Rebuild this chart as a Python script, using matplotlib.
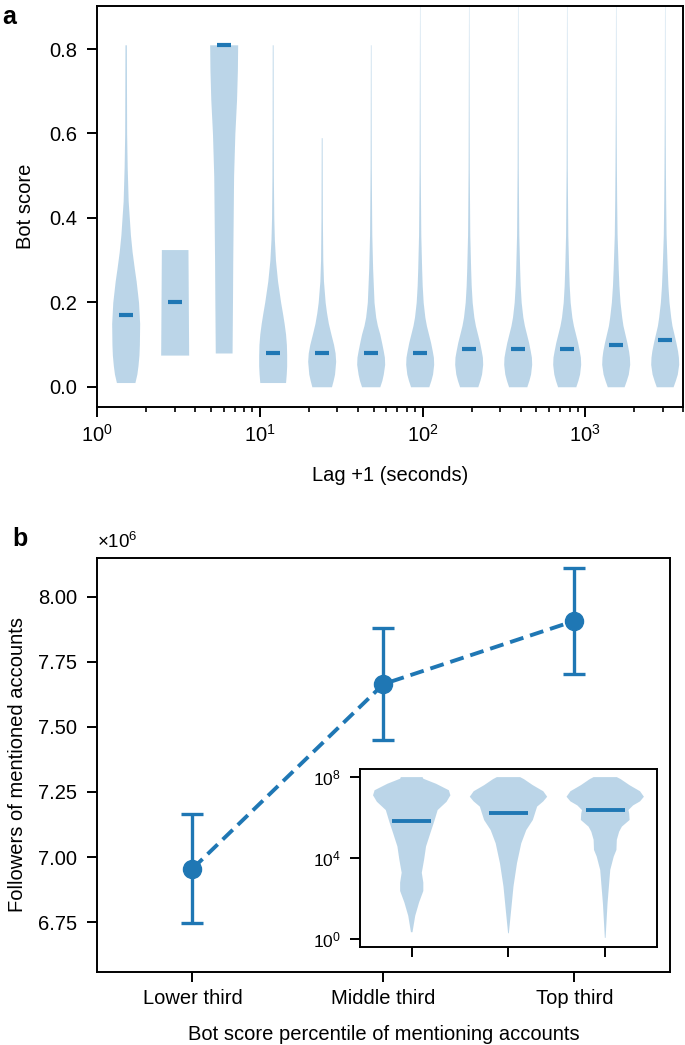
import numpy as np
import matplotlib
matplotlib.use("Agg")
import matplotlib.pyplot as plt

plt.rcParams["font.family"] = ["Liberation Sans", "DejaVu Sans"]
plt.rcParams["mathtext.default"] = "regular"
plt.rcParams["font.size"] = 14.5
plt.rcParams["axes.linewidth"] = 1.4
for ax_name in ("xtick", "ytick"):
    plt.rcParams[f"{ax_name}.major.size"] = 7
    plt.rcParams[f"{ax_name}.major.width"] = 1.4
    plt.rcParams[f"{ax_name}.minor.size"] = 3.8
    plt.rcParams[f"{ax_name}.minor.width"] = 1.2
    plt.rcParams[f"{ax_name}.labelsize"] = 14.5
plt.rcParams["ytick.major.pad"] = 7.5
plt.rcParams["xtick.major.pad"] = 5.5

BLUE = "#1f77b4"

# -----------------------------
# panel a: bot score vs lag (violins, log-x)
# -----------------------------
lag_positions = [1.5, 3, 6, 12, 24, 48, 96, 192, 384, 768, 1536, 3072]
lag_medians = [0.17, 0.20, 0.81, 0.08, 0.08, 0.08, 0.08, 0.09, 0.09, 0.09, 0.10, 0.11]

# profile of each violin: bot score levels and relative half width (1 = widest)
tail_y = [0.0, 0.015, 0.03, 0.053, 0.07, 0.085, 0.105, 0.125, 0.145, 0.165, 0.20, 0.24, 0.28,
          0.36, 0.44, 0.52, 0.65, 0.80, 0.95]
tail_w = [0.65, 0.8, 0.92, 1.0, 0.98, 0.9, 0.78, 0.63, 0.48, 0.37, 0.25, 0.18, 0.14,
          0.08, 0.06, 0.04, 0.03, 0.02, 0.01]
wide_tail_y = [0.0, 0.015, 0.03, 0.053, 0.07, 0.085, 0.105, 0.125, 0.145, 0.165, 0.20, 0.24, 0.28,
               0.36, 0.44, 0.52, 0.65, 0.80, 0.95]
wide_tail_w = [0.6, 0.76, 0.9, 1.0, 0.98, 0.92, 0.8, 0.66, 0.52, 0.43, 0.31, 0.23, 0.18,
               0.1, 0.07, 0.05, 0.03, 0.02, 0.01]

lag_shape_y = [
    [0.01, 0.03, 0.05, 0.075, 0.10, 0.15, 0.20, 0.25, 0.28, 0.32, 0.36, 0.40, 0.44, 0.52, 0.60, 0.70, 0.81],
    [0.075, 0.325],
    [0.08, 0.20, 0.30, 0.40, 0.50, 0.60, 0.68, 0.75, 0.81],
    [0.01, 0.03, 0.05, 0.075, 0.10, 0.125, 0.15, 0.175, 0.20, 0.25, 0.30, 0.35, 0.40, 0.50, 0.60, 0.81],
    [0.0, 0.015, 0.03, 0.06, 0.08, 0.10, 0.125, 0.15, 0.175, 0.20, 0.25, 0.30, 0.40, 0.59],
    [0.0, 0.015, 0.03, 0.053, 0.07, 0.085, 0.105, 0.125, 0.145, 0.165, 0.20, 0.28, 0.36, 0.52, 0.65, 0.81],
    tail_y, tail_y, tail_y, tail_y, wide_tail_y, wide_tail_y,
]
lag_shape_w = [
    [0.66, 0.8, 0.88, 0.95, 0.98, 1.0, 0.92, 0.75, 0.62, 0.46, 0.34, 0.26, 0.18, 0.11, 0.07, 0.06, 0.05],
    [1.0, 0.95],
    [0.6, 0.63, 0.65, 0.68, 0.71, 0.8, 0.92, 0.98, 1.0],
    [0.92, 0.97, 1.0, 1.0, 0.98, 0.92, 0.82, 0.7, 0.57, 0.35, 0.2, 0.12, 0.08, 0.05, 0.04, 0.03],
    [0.7, 0.82, 0.92, 1.0, 0.96, 0.85, 0.66, 0.48, 0.35, 0.25, 0.13, 0.08, 0.05, 0.03],
    [0.65, 0.8, 0.9, 1.0, 0.98, 0.9, 0.78, 0.65, 0.48, 0.36, 0.24, 0.14, 0.08, 0.04, 0.03, 0.02],
    tail_w, tail_w, tail_w, tail_w, wide_tail_w, wide_tail_w,
]

# -----------------------------
# panel b: followers of mentioned accounts
# -----------------------------
tercile_labels = ["Lower third", "Middle third", "Top third"]
followers_mean = [6.955e6, 7.665e6, 7.908e6]
followers_err = [0.21e6, 0.216e6, 0.203e6]

# inset: log10(followers) distributions
inset_medians = [5.83, 6.21, 6.37]
inset_shape_y = [
    [0.33, 1.14, 1.8, 2.37, 2.78, 3.27, 3.92, 4.57, 5.22, 5.8, 6.37, 6.78, 7.1, 7.35, 7.67, 7.92, 8.0],
    [0.28, 1.43, 2.6, 3.74, 4.72, 5.38, 5.88, 6.54, 6.8, 7.03, 7.3, 7.6, 7.9, 8.0],
    [0.05, 1.76, 3.41, 4.07, 4.4, 4.9, 5.3, 5.55, 5.88, 6.2, 6.37, 6.6, 6.8, 7.03, 7.3, 7.6, 7.9, 8.0],
]
inset_shape_w = [
    [0.02, 0.09, 0.19, 0.3, 0.3, 0.26, 0.32, 0.37, 0.48, 0.58, 0.67, 0.9, 1.0, 0.96, 0.63, 0.3, 0.28],
    [0.01, 0.07, 0.13, 0.22, 0.33, 0.46, 0.63, 0.74, 0.9, 1.0, 0.9, 0.63, 0.4, 0.3],
    [0.01, 0.06, 0.13, 0.22, 0.29, 0.3, 0.36, 0.43, 0.63, 0.62, 0.6, 0.72, 0.9, 1.0, 0.9, 0.63, 0.4, 0.3],
]


def main():
    fig = plt.figure(figsize=(6.85, 10.45), dpi=100)

    # ---- panel a ----
    ax_a = fig.add_axes([0.1416, 0.6105, 0.856, 0.3838])
    half_w = 0.086  # in decades
    for pos, med, ys, ws in zip(lag_positions, lag_medians, lag_shape_y, lag_shape_w):
        ws = np.asarray(ws)
        ax_a.fill_betweenx(ys, pos * 10 ** (-half_w * ws), pos * 10 ** (half_w * ws),
                           color=BLUE, alpha=0.3, lw=0)
        ax_a.hlines(med, pos * 10 ** (-half_w / 2), pos * 10 ** (half_w / 2),
                    color=BLUE, lw=3)
    ax_a.set_xscale("log")
    ax_a.set_xlim(1, 4000)
    ax_a.set_ylim(-0.048, 0.902)
    ax_a.set_yticks([0.0, 0.2, 0.4, 0.6, 0.8])
    ax_a.set_xlabel("Lag +1 (seconds)", labelpad=14)
    ax_a.set_ylabel("Bot score", labelpad=10)
    fig.text(0.003, 0.995, "a", fontsize=18, fontweight="bold", va="top")

    # ---- panel b ----
    ax_b = fig.add_axes([0.1416, 0.0699, 0.8365, 0.3962])
    x_pos = np.arange(len(tercile_labels))
    ax_b.errorbar(x_pos, followers_mean, yerr=followers_err, fmt="o--", color=BLUE,
                  ms=13, lw=2.8, elinewidth=2.4, capsize=8, capthick=2.4,
                  dashes=(3.6, 1.8))
    ax_b.set_xlim(-0.5, 2.5)
    ax_b.set_ylim(6.558e6, 8.15e6)
    ax_b.set_yticks([6.75e6, 7.0e6, 7.25e6, 7.5e6, 7.75e6, 8.0e6])
    ax_b.set_xticks(x_pos)
    ax_b.set_xticklabels(tercile_labels)
    ax_b.yaxis.set_major_formatter(matplotlib.ticker.FuncFormatter(lambda v, p: f"{v / 1e6:.2f}"))
    ax_b.text(0.0, 1.015, r"$\times10^{6}$", transform=ax_b.transAxes, fontsize=13.5, va="bottom")
    ax_b.set_xlabel("Bot score percentile of mentioning accounts", labelpad=12)
    ax_b.set_ylabel("Followers of mentioned accounts", labelpad=8)
    fig.text(0.018, 0.496, "b", fontsize=18, fontweight="bold", va="top")

    # ---- inset ----
    ax_in = fig.add_axes([0.5255, 0.0938, 0.4336, 0.1703])
    vpstats = []
    for med, ys, ws in zip(inset_medians, inset_shape_y, inset_shape_w):
        vpstats.append({"coords": np.asarray(ys), "vals": np.asarray(ws),
                        "mean": med, "median": med, "min": ys[0], "max": ys[-1]})
    parts = ax_in.violin(vpstats, positions=[1, 2, 3], widths=0.8,
                         showmeans=False, showextrema=False, showmedians=True)
    for body in parts["bodies"]:
        body.set_facecolor(BLUE)
        body.set_edgecolor("none")
        body.set_alpha(0.3)
    parts["cmedians"].set_color(BLUE)
    parts["cmedians"].set_linewidth(2.8)
    ax_in.set_xlim(0.465, 3.535)
    ax_in.set_ylim(-0.4, 8.4)
    ax_in.set_xticks([1, 2, 3])
    ax_in.set_xticklabels([])
    ax_in.set_yticks([0, 4, 8])
    ax_in.set_yticklabels([r"$10^{0}$", r"$10^{4}$", r"$10^{8}$"])
    ax_in.tick_params(labelsize=12.5, pad=7)

    fig.savefig("out.png", dpi=100)
    plt.close(fig)


if __name__ == "__main__":
    main()
